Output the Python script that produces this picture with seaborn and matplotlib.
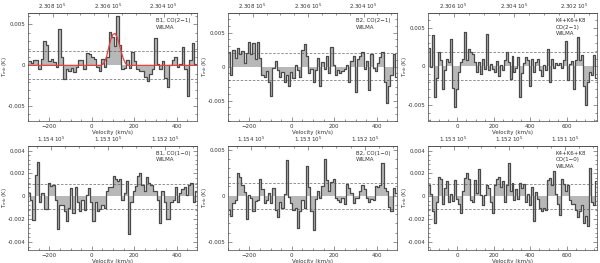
import numpy as np
import matplotlib
matplotlib.use("Agg")
import matplotlib.pyplot as plt
import seaborn as sns
from matplotlib.ticker import MultipleLocator, AutoMinorLocator, FuncFormatter

# ================= DATA =================
# B1 CO(2-1), channels from -300 to 495 km/s
b1_co21 = [0.0005, 0.0003, 0.0007, 0.0007, -0.0005, 0.0008, 0.0030, 0.0025, 0.0005, 0.0008,
           0.0004, -0.0002, 0.0044, 0.0010, -0.0017, -0.0005, -0.0007, -0.0003, -0.0008, -0.0002,
           0.0007, 0.0007, -0.0005, 0.0015, 0.0014, 0.0010, 0.0008, -0.0002, -0.0007, 0.0008,
           -0.0002, 0.0010, 0.0041, 0.0035, 0.0024, 0.0060, 0.0025, -0.0005, -0.0003, 0.0007,
           -0.0003, 0.0016, 0.0005, -0.0004, -0.0007, -0.0007, -0.0014, -0.0019, -0.0011, -0.0005,
           0.0033, 0.0002, -0.0005, 0.0005, -0.0015, -0.0027, 0.0001, 0.0006, 0.0010, -0.0002,
           0.0002, 0.0022, -0.0005, -0.0037, 0.0007, 0.0027, 0.0002]
# gaussian fit
b1_fit_v = [-300, 40, 50, 60, 70, 80, 90, 100, 110, 120, 130, 140, 150, 160, 170, 495]
b1_fit_t = [0, 0, 0.0001, 0.0004, 0.0011, 0.0022, 0.0032, 0.0038, 0.0039, 0.0034, 0.0025,
            0.0015, 0.0007, 0.0002, 0, 0]

b2_co21 = [0.0022, -0.0012, 0.0025, 0.0013, 0.0028, 0.0018, 0.0023, 0.0005, 0.0020, 0.0037,
           0.0018, 0.0035, 0.0012, 0.0036, 0.0013, -0.0012, -0.0015, -0.0007, -0.0022, -0.0043,
           -0.0002, 0.0008, -0.0005, -0.0015, -0.0008, -0.0023, -0.0013, -0.0028, -0.0008, -0.0017,
           0.0003, -0.0005, -0.0015, 0.0025, 0.0033, 0.0015, -0.0010, -0.0003, -0.0023, -0.0005,
           0.0013, -0.0028, 0.0007, -0.0003, 0.0015, -0.0010, 0.0029, 0.0002, -0.0013, -0.0005,
           -0.0010, -0.0007, -0.0003, 0.0003, -0.0022, 0.0008, 0.0015, -0.0037, 0.0011, 0.0015,
           0.0022, -0.0003, 0.0008, -0.0035, 0.0018, -0.0002, -0.0007, 0.0005, 0.0014, 0.0022,
           -0.0022, -0.0053, -0.0028, -0.0013, 0.0018, -0.0015]

k_co21 = [0.0024, -0.0001, 0.0040, -0.0040, -0.0015, 0.0018, 0.0008, -0.0030, -0.0005, 0.0010,
          0.0005, 0.0035, -0.0028, -0.0053, -0.0030, -0.0008, 0.0005, 0.0010, 0.0044, 0.0008,
          0.0022, 0.0018, 0.0016, 0.0005, -0.0008, 0.0005, -0.0010, 0.0009, -0.0003, 0.0042,
          -0.0005, 0.0003, -0.0003, -0.0008, 0.0007, -0.0013, 0.0002, -0.0005, 0.0008, 0.0018,
          0.0005, -0.0016, 0.0013, -0.0007, -0.0002, 0.0012, -0.0040, -0.0009, 0.0004, 0.0012,
          0.0008, -0.0025, 0.0010, -0.0008, 0.0005, 0.0009, -0.0005, -0.0013, 0.0002, -0.0005,
          0.0022, -0.0020, 0.0009, -0.0002, 0.0004, 0.0001, 0.0004, -0.0002, 0.0008, 0.0033,
          -0.0018, 0.0003, 0.0007, -0.0030, 0.0008, 0.0038, 0.0008, 0.0015, -0.0025, -0.0050,
          -0.0020, -0.0007, -0.0012, 0.0015, -0.0015]

b1_co10 = [0.0003, -0.0003, -0.0021, 0.0019, 0.0030, -0.0005, 0.0003, -0.0011, -0.0011, 0.0012,
           0.0009, 0.0010, -0.0003, -0.0029, -0.0008, -0.0008, -0.0013, -0.0022, -0.0010, 0.0007,
           -0.0015, 0.0008, -0.0005, -0.0013, -0.0003, -0.0012, 0.0001, 0.0007, -0.0005, -0.0022,
           -0.0005, -0.0013, -0.0011, -0.0008, -0.0010, 0.0005, 0.0008, 0.0008, 0.0018, 0.0015,
           0.0013, 0.0015, -0.0003, 0.0003, 0.0013, -0.0033, -0.0005, 0.0005, 0.0009, 0.0018,
           0.0020, 0.0010, 0.0005, 0.0017, 0.0012, 0.0010, 0.0005, 0.0005, -0.0003, -0.0023,
           0.0005, -0.0005, -0.0020, -0.0020, -0.0005, -0.0003, 0.0008, -0.0005, 0.0003, 0.0006,
           0.0008, 0.0001, 0.0010, 0.0012, -0.0005, 0.0005]

b2_co10 = [-0.0015, -0.0022, -0.0008, -0.0005, 0.0025, 0.0020, 0.0012, 0.0004, -0.0025, 0.0001,
           -0.0003, -0.0017, -0.0006, -0.0005, 0.0018, 0.0007, -0.0008, -0.0005, 0.0003, -0.0008,
           0.0008, -0.0015, -0.0023, -0.0007, -0.0013, 0.0002, 0.0039, -0.0001, -0.0008, -0.0015,
           -0.0013, -0.0035, -0.0017, -0.0005, -0.0013, 0.0032, 0.0009, -0.0017, -0.0037, -0.0004,
           0.0005, -0.0002, 0.0010, 0.0040, 0.0017, 0.0005, 0.0015, 0.0018, -0.0003, -0.0005,
           -0.0007, -0.0003, -0.0009, 0.0013, 0.0008, 0.0003, -0.0008, -0.0003, -0.0002, 0.0005,
           0.0012, 0.0007, -0.0003, -0.0007, -0.0004, -0.0005, 0.0010, 0.0009, 0.0012, 0.0035,
           0.0008, 0.0005, -0.0012, -0.0017, 0.0008, 0.0003]

k_co10 = [0.0010, 0.0002, -0.0013, -0.0023, -0.0005, 0.0017, 0.0015, -0.0007, 0.0007, 0.0013,
          -0.0005, 0.0002, -0.0004, 0.0014, -0.0002, -0.0007, -0.0015, 0.0005, 0.0016, 0.0020,
          0.0015, -0.0003, -0.0005, 0.0014, 0.0003, 0.0024, 0.0001, -0.0008, 0.0001, 0.0010,
          0.0007, -0.0005, -0.0015, 0.0010, 0.0015, 0.0017, 0.0008, 0.0013, -0.0005, 0.0010,
          0.0029, 0.0005, 0.0012, -0.0003, 0.0006, -0.0002, 0.0012, 0.0007, 0.0011, -0.0005,
          0.0002, -0.0008, 0.0008, -0.0022, 0.0004, -0.0002, -0.0010, -0.0013, -0.0010, -0.0012,
          0.0014, 0.0016, 0.0010, 0.0022, 0.0002, -0.0007, -0.0016, 0.0015, 0.0011, 0.0005,
          0.0010, -0.0003, -0.0007, -0.0007, -0.0012, -0.0018, -0.0013, -0.0008, -0.0023, -0.0017,
          -0.0026, 0.0025, -0.0005, -0.0008, 0.0013]

labels = ["B1, CO(2\u22121)\nWILMA", "B2, CO(2\u22121)\nWILMA", "K4+K6+K8\nCO(2\u22121)\nWILMA",
          "B1, CO(1\u22120)\nWILMA", "B2, CO(1\u22120)\nWILMA", "K4+K6+K8\nCO(1\u22120)\nWILMA"]
rms = [0.0017, 0.0020, 0.0018, 0.0011, 0.0014, 0.0011]

# top axis frequency labels (units of 1e5 MHz)
freq_ticks = [[2.308, 2.306, 2.304], [2.308, 2.306, 2.304], [2.306, 2.304, 2.302],
              [1.154, 1.153, 1.152], [1.154, 1.153, 1.152], [1.153, 1.152, 1.151]]

# ================= STYLE =================
sns.set_theme(style="ticks")
plt.rcParams['font.family'] = ['DejaVu Sans']
plt.rcParams['axes.linewidth'] = 0.5
plt.rcParams['axes.edgecolor'] = '#444444'
plt.rcParams['xtick.direction'] = 'in'
plt.rcParams['ytick.direction'] = 'in'
for a in ('xtick', 'ytick'):
    plt.rcParams[a + '.major.size'] = 3
    plt.rcParams[a + '.minor.size'] = 1.5
    plt.rcParams[a + '.major.width'] = 0.4
    plt.rcParams[a + '.minor.width'] = 0.4
    plt.rcParams[a + '.labelsize'] = 4.0
    plt.rcParams[a + '.major.pad'] = 2
    plt.rcParams[a + '.color'] = '#444444'
    plt.rcParams[a + '.labelcolor'] = '#333333'

FS = 4.0
EDGE = '#4a4a4a'
FILL = '#b8b8b8'


def yfmt(v, pos):
    return '0' if abs(v) < 1e-12 else f'{v:g}'


def draw_panel(ax, t, vrange, ylim, rms_level, label, fticks, fmap, xticks):
    v = np.linspace(vrange[0], vrange[1], len(t) + 1)
    vc = 0.5 * (v[:-1] + v[1:])
    ax.fill_between(vc, t, 0, step='mid', color=FILL, lw=0)
    sns.lineplot(x=vc, y=t, ax=ax, drawstyle='steps-mid', color=EDGE, lw=0.9)
    for s in (1, -1):
        ax.axhline(s * rms_level, color='#555555', lw=0.45, ls=(0, (4, 2.5)))
    ax.set_xlim(vrange)
    ax.set_ylim(ylim)
    ax.set_xticks(xticks)
    ax.xaxis.set_minor_locator(MultipleLocator(50))
    ax.yaxis.set_minor_locator(AutoMinorLocator(5))
    ax.yaxis.set_major_formatter(FuncFormatter(yfmt))
    ax.tick_params(which='both', right=True, top=False)
    ax.set_xlabel('Velocity (km/s)', fontsize=FS, labelpad=0.8, color='#333333')
    ax.set_ylabel('T$_{mb}$ (K)', fontsize=FS, color='#333333')
    ax.yaxis.set_label_coords(-0.115, 0.5)
    ax.text(0.755, 0.95, label, transform=ax.transAxes, fontsize=FS,
            va='top', ha='left', linespacing=1.3, color='#333333')
    # top axis: observed frequency
    v0, f0, k = fmap
    sec = ax.secondary_xaxis('top', functions=(lambda x: f0 - (x - v0) / k,
                                                lambda f: v0 + (f0 - f) * k))
    sec.set_xticks(fticks)
    sec.set_xticklabels([f'{f:.3f} 10$^5$' for f in fticks])
    step = abs(fticks[0] - fticks[1])
    sec.xaxis.set_minor_locator(MultipleLocator(step / 4))
    sec.tick_params(which='both', direction='in', labelsize=FS, pad=1.5)


fig = plt.figure(figsize=(6, 2.63), dpi=100)
lefts = [28 / 600, 228 / 600, 428 / 600]
width = 169 / 600
rows = [(1 - 121 / 263, 108 / 263), (1 - 250 / 263, 104 / 263)]

spectra = [b1_co21, b2_co21, k_co21, b1_co10, b2_co10, k_co10]
vranges = [(-300, 495), (-300, 495), (-160, 765), (-300, 495), (-300, 495), (-160, 765)]
ylims = [(-0.0068, 0.0064), (-0.0080, 0.0079), (-0.0071, 0.0069),
         (-0.0047, 0.0044), (-0.0059, 0.0054), (-0.0047, 0.0044)]
fmaps = [(77, 2.306, 130500), (77, 2.306, 130500), (311, 2.304, 165000),
         (76, 1.153, 268000), (76, 1.153, 268000), (285, 1.152, 305000)]
xticks = [[-200, 0, 200, 400]] * 2 + [[0, 200, 400, 600]] + [[-200, 0, 200, 400]] * 2 + [[0, 200, 400, 600]]
yticks = [[-0.005, 0, 0.005]] * 3 + [[-0.004, -0.002, 0, 0.002, 0.004], [-0.005, 0, 0.005],
                                     [-0.004, -0.002, 0, 0.002, 0.004]]

for i in range(6):
    r, c = divmod(i, 3)
    ax = fig.add_axes([lefts[c], rows[r][0], width, rows[r][1]])
    draw_panel(ax, spectra[i], vranges[i], ylims[i], rms[i], labels[i],
               freq_ticks[i], fmaps[i], xticks[i])
    ax.set_yticks(yticks[i])
    if i == 0:
        ax.plot(b1_fit_v, b1_fit_t, color='#e8413c', lw=0.9)

fig.savefig('out.png', dpi=100)
